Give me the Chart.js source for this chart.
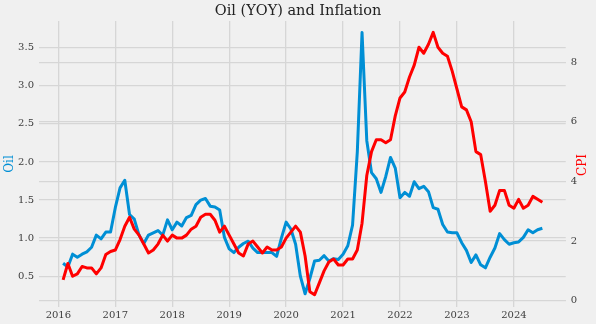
<!DOCTYPE html>
<html>
<head>
<meta charset="utf-8">
<script src="https://cdn.jsdelivr.net/npm/chart.js@4"></script>
<style>
    html, body { margin: 0; padding: 0; background: #f0f0f0; }
    #chart { display: block; background: #f0f0f0; }
</style>
</head>
<body>
<canvas id="chart" width="596" height="324"></canvas>
<script>
// Monthly series, Jan 2016 .. Jun 2024 (plotted at month end)
const firstYear = 2016;
const monthCount = 102;

// Oil price vs. same month a year earlier
const oilYoy = [
    0.67, 0.62, 0.79, 0.75, 0.79, 0.82, 0.88, 1.04, 0.99, 1.08, 1.08, 1.40,
    1.66, 1.76, 1.31, 1.25, 1.04, 0.93, 1.04, 1.07, 1.10, 1.04, 1.24, 1.11,
    1.21, 1.16, 1.27, 1.30, 1.44, 1.50, 1.52, 1.42, 1.41, 1.37, 1.01, 0.86,
    0.81, 0.88, 0.93, 0.96, 0.87, 0.81, 0.81, 0.81, 0.81, 0.76, 1.00, 1.21,
    1.12, 0.92, 0.50, 0.27, 0.47, 0.70, 0.71, 0.77, 0.70, 0.73, 0.72, 0.79,
    0.90, 1.17, 2.13, 3.70, 2.28, 1.86, 1.78, 1.60, 1.81, 2.06, 1.92, 1.53,
    1.60, 1.55, 1.74, 1.65, 1.68, 1.61, 1.40, 1.38, 1.18, 1.08, 1.07, 1.07,
    0.94, 0.84, 0.68, 0.78, 0.65, 0.61, 0.75, 0.87, 1.06, 0.98, 0.92, 0.94,
    0.95, 1.01, 1.11, 1.07, 1.11, 1.13
];

// CPI, % change year over year
const cpiYoy = [
    0.7,
    1.25, 0.82, 0.9, 1.15, 1.1, 1.1, 0.9, 1.1, 1.55, 1.65, 1.7, 2.05,
    2.5, 2.8, 2.4, 2.2, 1.9, 1.6, 1.7, 1.9, 2.2, 2.0, 2.2, 2.1,
    2.1, 2.2, 2.4, 2.5, 2.8, 2.9, 2.9, 2.7, 2.3, 2.5, 2.2, 1.9,
    1.6, 1.5, 1.9, 2.0, 1.8, 1.6, 1.8, 1.7, 1.7, 1.8, 2.1, 2.3,
    2.5, 2.3, 1.5, 0.3, 0.2, 0.6, 1.0, 1.3, 1.4, 1.2, 1.2, 1.4,
    1.4, 1.7, 2.6, 4.2, 5.0, 5.4, 5.4, 5.3, 5.4, 6.2, 6.8, 7.0,
    7.5, 7.9, 8.5, 8.3, 8.6, 9.0, 8.5, 8.3, 8.2, 7.7, 7.1, 6.5,
    6.4, 6.0, 5.0, 4.9, 4.0, 3.0, 3.2, 3.7, 3.7, 3.2, 3.1, 3.4,
    3.1, 3.2, 3.5, 3.4, 3.3
];

const oilTicks = [0.5, 1.0, 1.5, 2.0, 2.5, 3.0, 3.5];
const cpiTicks = [0, 2, 4, 6, 8];
const yearTicks = [2016, 2017, 2018, 2019, 2020, 2021, 2022, 2023, 2024];

// decimal year at the end of each month
const monthX = [];
for (let i = 0; i < monthCount; i++) {
    monthX.push(firstYear + (i + 1) / 12);
}

const toPoints = (values) => values.map((v, i) => ({ x: monthX[i], y: v }));

const serif = 'DejaVu Serif';
const tickColor = '#3c3c3c';
const gridColor = '#d6d6d6';
const blue = '#008fd5';
const red = '#ff0000';

// the right-hand label reads bottom to top, like the left one
const cpiLabel = {
    id: 'cpiLabel',
    afterDraw(chart) {
        const { ctx, chartArea } = chart;
        ctx.save();
        ctx.translate(583, (chartArea.top + chartArea.bottom) / 2 + 1);
        ctx.rotate(-Math.PI / 2);
        ctx.textAlign = 'center';
        ctx.textBaseline = 'middle';
        ctx.fillStyle = red;
        ctx.font = '12px "' + serif + '"';
        ctx.fillText('CPI', 0, 0);
        ctx.restore();
    }
};

new Chart(document.getElementById('chart'), {
    type: 'line',
    data: {
        datasets: [
            {
                label: 'CPI',
                data: toPoints(cpiYoy),
                yAxisID: 'yCpi',
                borderColor: red,
                borderWidth: 3,
                pointRadius: 0,
                tension: 0,
                borderJoinStyle: 'round',
                order: 0
            },
            {
                label: 'Oil',
                data: toPoints(oilYoy),
                yAxisID: 'yOil',
                borderColor: blue,
                borderWidth: 3,
                pointRadius: 0,
                tension: 0,
                borderJoinStyle: 'round',
                order: 1
            }
        ]
    },
    options: {
        responsive: false,
        animation: false,
        layout: { padding: 0 },
        plugins: {
            legend: { display: false },
            tooltip: { enabled: false },
            title: {
                display: true,
                text: 'Oil (YOY) and Inflation',
                color: '#222',
                font: { family: serif, size: 14.5, weight: 'normal' },
                padding: { top: 3, bottom: 0.6 }
            }
        },
        scales: {
            x: {
                type: 'linear',
                position: 'bottom',
                min: 2015.66,
                max: 2024.91,
                afterBuildTicks: (s) => { s.ticks = yearTicks.map(v => ({ value: v })); },
                ticks: {
                    callback: (v) => String(v),
                    color: tickColor,
                    font: { family: serif, size: 10 },
                    padding: 2,
                    maxRotation: 0
                },
                grid: { color: gridColor, lineWidth: 1.3, drawTicks: false },
                border: { display: false },
                afterFit: (s) => { s.height = 17; }
            },
            yOil: {
                type: 'linear',
                position: 'left',
                min: 0.096,
                max: 3.851,
                afterBuildTicks: (s) => { s.ticks = oilTicks.map(v => ({ value: v })); },
                ticks: {
                    callback: (v) => v.toFixed(1),
                    color: tickColor,
                    font: { family: serif, size: 10 },
                    padding: 5
                },
                title: {
                    display: true,
                    text: 'Oil',
                    color: blue,
                    font: { family: serif, size: 12 },
                    padding: { top: 3 }
                },
                grid: { color: gridColor, lineWidth: 1.3, drawTicks: false },
                border: { display: false },
                afterFit: (s) => { s.width = 39; }
            },
            yCpi: {
                type: 'linear',
                position: 'right',
                min: -0.21,
                max: 9.38,
                afterBuildTicks: (s) => { s.ticks = cpiTicks.map(v => ({ value: v })); },
                ticks: {
                    callback: (v) => String(v),
                    color: tickColor,
                    font: { family: serif, size: 10 },
                    padding: 5
                },
                grid: { color: gridColor, lineWidth: 1.3, drawTicks: false, drawOnChartArea: true },
                border: { display: false },
                afterFit: (s) => { s.width = 30.3; }
            }
        }
    },
    plugins: [cpiLabel]
});
</script>
</body>
</html>
